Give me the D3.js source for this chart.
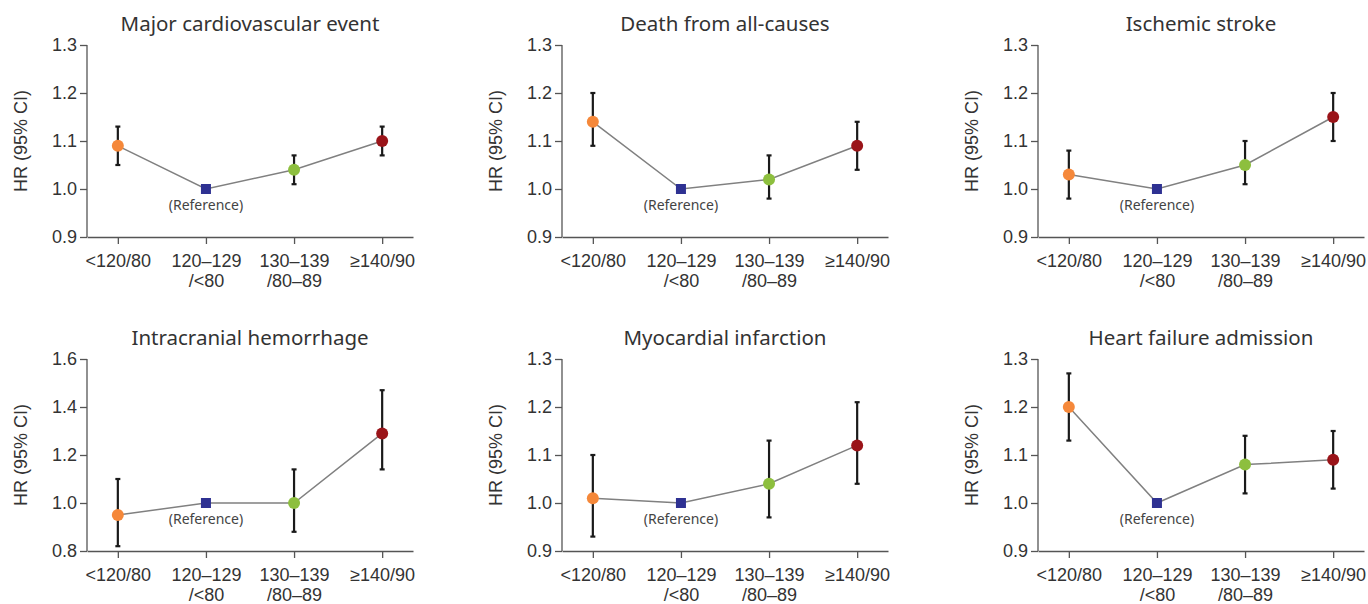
<!DOCTYPE html>
<html>
<head>
<meta charset="utf-8">
<script src="https://cdn.jsdelivr.net/npm/d3@7"></script>
<style>
  body { margin: 0; background: #fff; }
  svg { display: block; }
</style>
</head>
<body>
<div class="chart"></div>
<script>
// categories (two-line tick labels)
const groups = ['<120/80', '120\u2013129\n/<80', '130\u2013139\n/80\u201389', '\u2265140/90'];
const groupColors = ['#f5883a', '#2e3192', '#8dbf3e', '#9a1419'];

const titles = ['Major cardiovascular event', 'Death from all-causes', 'Ischemic stroke',
                'Intracranial hemorrhage', 'Myocardial infarction', 'Heart failure admission'];

// hazard ratios and 95% CI per panel (reference group = 1.00, no CI)
const hr    = [[1.09, 1.00, 1.04, 1.10], [1.14, 1.00, 1.02, 1.09], [1.03, 1.00, 1.05, 1.15],
               [0.95, 1.00, 1.00, 1.29], [1.01, 1.00, 1.04, 1.12], [1.20, 1.00, 1.08, 1.09]];
const lower = [[1.05, null, 1.01, 1.07], [1.09, null, 0.98, 1.04], [0.98, null, 1.01, 1.10],
               [0.82, null, 0.88, 1.14], [0.93, null, 0.97, 1.04], [1.13, null, 1.02, 1.03]];
const upper = [[1.13, null, 1.07, 1.13], [1.20, null, 1.07, 1.14], [1.08, null, 1.10, 1.20],
               [1.10, null, 1.14, 1.47], [1.10, null, 1.13, 1.21], [1.27, null, 1.14, 1.15]];

const yDomains = [[0.9, 1.3], [0.9, 1.3], [0.9, 1.3], [0.8, 1.6], [0.9, 1.3], [0.9, 1.3]];
const yTicks = [[0.9, 1.0, 1.1, 1.2, 1.3], [0.9, 1.0, 1.1, 1.2, 1.3], [0.9, 1.0, 1.1, 1.2, 1.3],
                [0.8, 1.0, 1.2, 1.4, 1.6], [0.9, 1.0, 1.1, 1.2, 1.3], [0.9, 1.0, 1.1, 1.2, 1.3]];

const W = 1368, H = 604;
const svg = d3.select('.chart').append('svg').attr('width', W).attr('height', H);

const panelX = [87, 562, 1038];
const panelY = [45, 359];
const pw = 326, ph = 192;
const tickFont = '"Liberation Sans", Arial, sans-serif';

titles.forEach((title, i) => {
  const col = i % 3, row = Math.floor(i / 3);
  const g = svg.append('g')
    .attr('transform', `translate(${panelX[col]},${panelY[row]})`);

  const x = d3.scalePoint().domain(groups).range([0, pw]).padding(0.35);
  const y = d3.scaleLinear().domain(yDomains[i]).range([ph, 0]);

  // title
  g.append('text')
    .attr('x', pw / 2).attr('y', -14)
    .attr('text-anchor', 'middle')
    .style('font-family', '"Noto Sans", sans-serif')
    .style('font-size', '20.5px')
    .style('fill', '#333')
    .text(title);

  // axes
  const yAxis = g.append('g')
    .call(d3.axisLeft(y).tickValues(yTicks[i]).tickFormat(d3.format('.1f')).tickSize(7).tickPadding(3));
  const xAxis = g.append('g').attr('transform', `translate(0,${ph})`)
    .call(d3.axisBottom(x).tickSize(7).tickSizeOuter(0).tickFormat(''));
  [yAxis, xAxis].forEach(a => {
    a.selectAll('.domain, line').style('stroke', '#555').style('stroke-width', 1.3);
    a.selectAll('text')
      .style('font-family', tickFont)
      .style('font-size', '18px')
      .style('fill', '#333');
  });
  yAxis.select('.domain').attr('d', `M0,0V${ph}`);

  // x tick labels on two lines
  xAxis.selectAll('.tick').each(function(d) {
    const t = d3.select(this).append('text')
      .attr('text-anchor', 'middle')
      .style('font-family', tickFont)
      .style('font-size', '18px')
      .style('fill', '#333');
    d.split('\n').forEach((line, k) => {
      t.append('tspan').attr('x', 0).attr('y', 30 + k * 20).text(line);
    });
  });

  // y label
  g.append('text')
    .attr('transform', `translate(-60,${ph / 2}) rotate(-90)`)
    .attr('text-anchor', 'middle')
    .style('font-family', tickFont)
    .style('font-size', '18px')
    .style('fill', '#333')
    .text('HR (95% CI)');

  const pts = groups.map((gr, k) => ({ g: gr, k, v: hr[i][k], lo: lower[i][k], hi: upper[i][k] }));

  // connecting line
  g.append('path')
    .datum(pts)
    .attr('d', d3.line().x(d => x(d.g)).y(d => y(d.v)))
    .style('fill', 'none')
    .style('stroke', '#808080')
    .style('stroke-width', 1.5);

  // error bars
  const ci = pts.filter(d => d.lo != null);
  const eb = g.selectAll('.eb').data(ci).enter().append('g');
  eb.append('line')
    .attr('x1', d => x(d.g)).attr('x2', d => x(d.g))
    .attr('y1', d => y(d.lo)).attr('y2', d => y(d.hi));
  eb.append('line')
    .attr('x1', d => x(d.g) - 2.5).attr('x2', d => x(d.g) + 2.5)
    .attr('y1', d => y(d.lo)).attr('y2', d => y(d.lo));
  eb.append('line')
    .attr('x1', d => x(d.g) - 2.5).attr('x2', d => x(d.g) + 2.5)
    .attr('y1', d => y(d.hi)).attr('y2', d => y(d.hi));
  eb.selectAll('line').style('stroke', '#1a1a1a').style('stroke-width', 2.2);

  // markers
  g.selectAll('.pt').data(pts.filter(d => d.k !== 1)).enter().append('circle')
    .attr('cx', d => x(d.g)).attr('cy', d => y(d.v)).attr('r', 6)
    .style('fill', d => groupColors[d.k]);
  const ref = pts[1];
  g.append('rect')
    .attr('x', x(ref.g) - 5).attr('y', y(ref.v) - 5)
    .attr('width', 10).attr('height', 10)
    .style('fill', groupColors[1]);
  g.append('text')
    .attr('x', x(ref.g)).attr('y', y(ref.v) + 21)
    .attr('text-anchor', 'middle')
    .style('font-family', '"Noto Sans", sans-serif')
    .style('font-size', '14px')
    .style('fill', '#444')
    .text('(Reference)');
});
</script>
</body>
</html>
